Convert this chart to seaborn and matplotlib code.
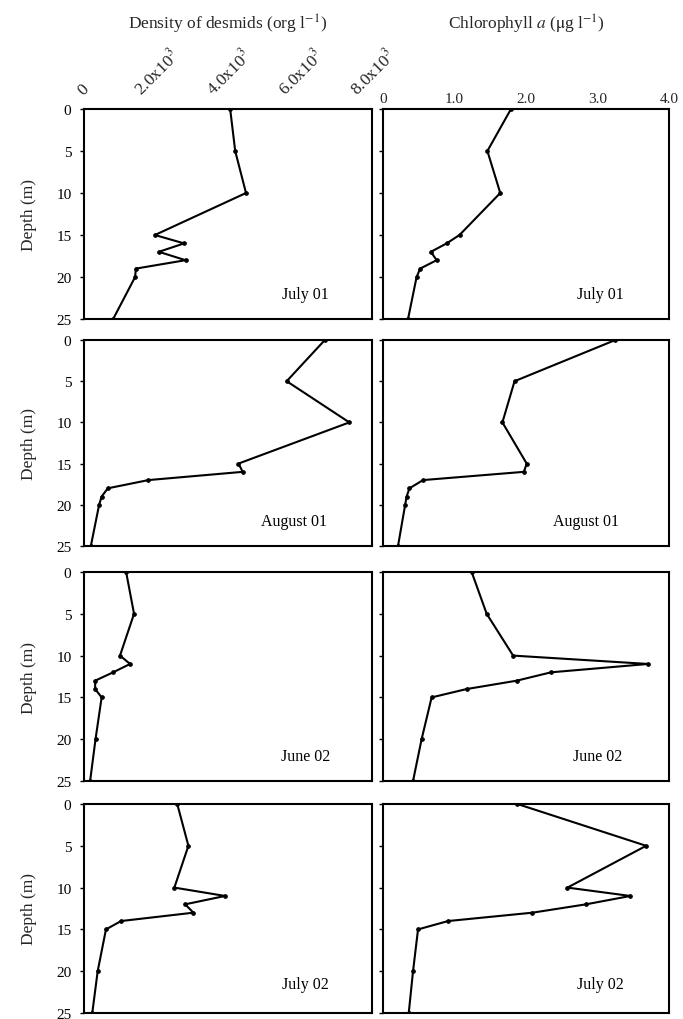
import matplotlib
matplotlib.use("Agg")
import matplotlib.pyplot as plt
import seaborn as sns
import pandas as pd

# Sampling depths (m)
depth_a = [0, 5, 10, 15, 16, 17, 18, 19, 20, 25]
depth_b = [0, 5, 10, 11, 12, 13, 14, 15, 20, 25]

# Desmid density (org l-1)
desmids_jul01 = [4060, 4200, 4500, 1970, 2780, 2080, 2820, 1440, 1420, 810]
desmids_aug01 = [6690, 5630, 7370, 4290, 4410, 1790, 660, 490, 420, 190]
desmids_jun02 = [1170, 1390, 1000, 1280, 810, 310, 310, 490, 320, 170]
desmids_jul02 = [2590, 2900, 2510, 3920, 2810, 3040, 1030, 610, 380, 230]

# Chlorophyll a (ug l-1)
chla_jul01 = [1.79, 1.46, 1.64, 1.07, 0.89, 0.67, 0.75, 0.52, 0.47, 0.35]
chla_aug01 = [3.25, 1.84, 1.67, 2.01, 1.97, 0.56, 0.37, 0.33, 0.31, 0.21]
chla_jun02 = [1.24, 1.45, 1.82, 3.71, 2.35, 1.87, 1.17, 0.68, 0.54, 0.42]
chla_jul02 = [1.88, 3.68, 2.58, 3.46, 2.84, 2.09, 0.91, 0.49, 0.42, 0.36]

campaigns = ["July 01", "August 01", "June 02", "July 02"]
depths = [depth_a, depth_a, depth_b, depth_b]
desmids = [desmids_jul01, desmids_aug01, desmids_jun02, desmids_jul02]
chla = [chla_jul01, chla_aug01, chla_jun02, chla_jul02]

depth_ticks = [0, 5, 10, 15, 20, 25]
desmid_ticks = [0, 2000, 4000, 6000, 8000]
desmid_ticklabels = ["0", r"2.0x10$^3$", r"4.0x10$^3$", r"6.0x10$^3$", r"8.0x10$^3$"]
chla_ticks = [0, 1, 2, 3, 4]
chla_ticklabels = ["0", "1.0", "2.0", "3.0", "4.0"]

sns.set_theme(style="ticks")
plt.rcParams["font.family"] = ["Liberation Serif", "DejaVu Serif"]
plt.rcParams["mathtext.fontset"] = "stix"
plt.rcParams["axes.linewidth"] = 1.5
plt.rcParams["xtick.major.width"] = 1.0
plt.rcParams["ytick.major.width"] = 1.0
plt.rcParams["xtick.major.size"] = 3
plt.rcParams["ytick.major.size"] = 3

fig = plt.figure(figsize=(6.83, 10.2), dpi=100)
fig.patch.set_facecolor("white")

W, H = 683.0, 1020.0
left_cols = [(84, 372), (383, 669)]
row_spans = [(110, 320), (341, 547), (573, 782), (805, 1014)]
label_x = [(0.77, 0.76), (0.73, 0.71), (0.77, 0.75), (0.77, 0.76)]
label_y = [0.12, 0.12, 0.12, 0.14]

for r, (top, bot) in enumerate(row_spans):
    for c, (x0, x1) in enumerate(left_cols):
        ax = fig.add_axes([x0 / W, 1 - bot / H, (x1 - x0) / W, (bot - top) / H])
        ax.set_facecolor("white")
        vals = desmids[r] if c == 0 else chla[r]
        df = pd.DataFrame({"value": vals, "depth": depths[r]})
        sns.lineplot(data=df, x="value", y="depth", sort=False, estimator=None,
                     color="black", linewidth=1.5, marker="o", markersize=2.6,
                     markeredgecolor="black", ax=ax)
        if c == 0:
            ax.set_xlim(0, 8000)
        else:
            ax.set_xlim(0, 4)
        ax.set_ylim(25, 0)
        ax.set_yticks(depth_ticks)
        for s in ax.spines.values():
            s.set_visible(True)
            s.set_color("black")
            s.set_linewidth(1.5)
        ax.set_xlabel("")
        ax.set_ylabel("")
        if c == 0:
            ax.set_yticklabels([str(t) for t in depth_ticks], fontsize=11)
            ax.set_ylabel("Depth (m)", fontsize=12.5, labelpad=14)
        else:
            ax.set_yticklabels([])
        if r == 0:
            ax.xaxis.tick_top()
            if c == 0:
                ax.set_xticks(desmid_ticks)
                ax.set_xticklabels(desmid_ticklabels, rotation=45, fontsize=12.5,
                                   ha="center", va="bottom")
                ax.tick_params(axis="x", length=0, pad=8)
                ax.set_title(r"Density of desmids (org l$^{-1}$)", fontsize=12.5, pad=58)
            else:
                ax.set_xticks(chla_ticks)
                ax.set_xticklabels(chla_ticklabels, fontsize=11)
                ax.tick_params(axis="x", length=0, pad=3)
                ax.set_title(r"Chlorophyll $a$ ($\mathrm{\mu}$g l$^{-1}$)", fontsize=12.5, pad=58)
        else:
            ax.set_xticks([])
        ax.tick_params(axis="y", direction="out", length=3, pad=6, colors="black")
        ax.text(label_x[r][c], label_y[r], campaigns[r], transform=ax.transAxes,
                ha="center", va="center", fontsize=11.5, color="black")

fig.savefig("out.png", dpi=100, facecolor="white")
